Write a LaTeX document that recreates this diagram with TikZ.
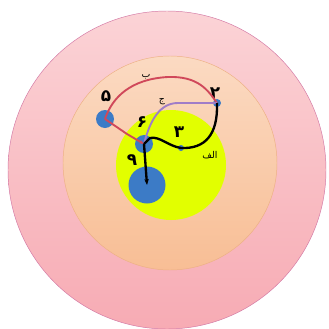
\documentclass[tikz,border=0pt]{standalone}
\usepackage{fontspec}
\usepackage{tikz}
\usetikzlibrary{arrows.meta, positioning}
\newfontfamily\arabicfont[Script=Arabic]{DejaVu Sans}
\TeXXeTstate=1
\definecolor{rosa}{HTML}{F7ABB4}
\definecolor{rosahell}{HTML}{FBD3D6}
\definecolor{pfirsich}{HTML}{F8BE95}
\definecolor{pfirsichhell}{HTML}{FBDAC2}
\definecolor{gelb}{HTML}{E2FF00}
\definecolor{blau}{HTML}{3C7BC6}
\definecolor{rot}{HTML}{D0485A}
\definecolor{lila}{HTML}{A07CC8}

\begin{document}
\begin{tikzpicture}[
        x=0.03cm, y=-0.03cm,
        every node/.style={font=\arabicfont\large},
        punkt/.style={circle, fill=blau, inner sep=0pt},
        marke/.style={font=\arabicfont\Large\bfseries},
        klein/.style={font=\arabicfont\footnotesize},
      ]
      \useasboundingbox (0,0) rectangle (328,329);

      % Kreise
      \draw[rosa!70!violet, top color=rosahell, bottom color=rosa]
        (167,170) circle (159);
      \draw[pfirsich!80!brown, top color=pfirsichhell, bottom color=pfirsich]
        (170,163) circle (107);
      \fill[gelb] (171,165) circle (55);

      % Punkte
      \node[punkt, minimum size=18*0.03cm] (n5) at (105,119) {};
      \node[punkt, minimum size=18*0.03cm] (n6) at (144,144) {};
      \node[punkt, minimum size=37*0.03cm] (n9) at (147,185) {};
      \node[punkt, minimum size=6*0.03cm]  (n3) at (181,148) {};
      \node[punkt, minimum size=8*0.03cm]  (n2) at (217,103) {};

      % Beschriftungen
      \node[marke] (l5) at (106,96) {۵};
      \node[marke] (l2) at (215,93) {۲};
      \node[marke] (l6) at (142,122) {۶};
      \node[marke] (l3) at (179,132) {۳};
      \node[marke] (l9) at (132,160) {۹};
      \node[klein] (lb) at (146,77) {ب};
      \node[klein] (lj) at (162,102) {ج};
      \node[klein] (la) at (210,155) {\beginR الف\endR};

      % Wege
      \draw[rot, line width=1.6pt]
        (n5.center) .. controls (112,98) and (130,79) .. (168,77)
        .. controls (198,76) and (208,90) .. (n2.center);
      \draw[rot, line width=1.6pt, -{Stealth[length=4pt]}]
        (n5.center) -- (127,134) -- (n6.center);
      \draw[lila, line width=1.6pt]
        (n2.center) -- (178,103) .. controls (160,103) and (150,120) .. (n6.center);
      \draw[black, line width=2pt]
        (n2.center) .. controls (218,135) and (205,149) .. (n3.center)
        .. controls (168,146) and (160,136) .. (150,138) -- (n6.center);
      \draw[black, line width=2pt, -{Stealth[length=5pt]}]
        (n6.center) -- (n9.center);
    \end{tikzpicture}
\end{document}
